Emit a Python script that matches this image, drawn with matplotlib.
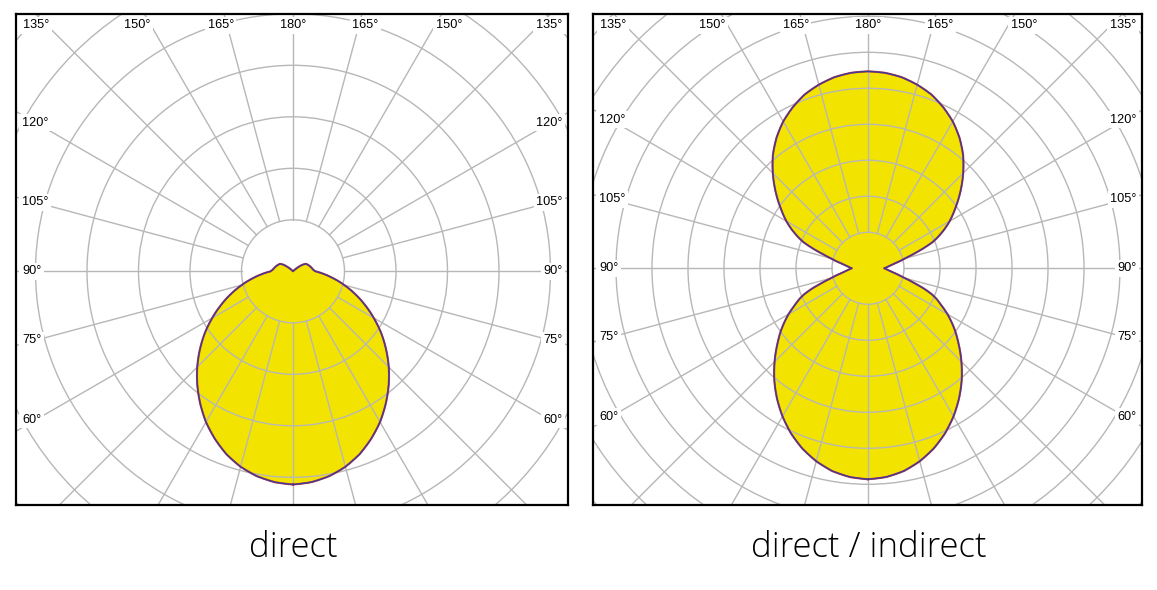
import numpy as np
import matplotlib
matplotlib.use("Agg")
import matplotlib.pyplot as plt
from matplotlib.patches import Circle

# polar light distribution, gamma angle 0 = straight down, 180 = straight up
gamma_direct = [0, 5, 10, 15, 20, 25, 30, 35, 40, 45, 50, 55, 60, 65, 70, 75, 80, 85, 90,
                95, 100, 105, 110, 115, 120, 125, 130, 135, 140, 145, 150, 155, 160, 165,
                170, 175, 180]
direct = [4.14, 4.11, 4.04, 3.93, 3.78, 3.59, 3.38, 3.14, 2.89, 2.63, 2.36, 2.09, 1.81, 1.54,
          1.28, 1.03, 0.80, 0.60, 0.43, 0.39, 0.37, 0.35, 0.33, 0.31, 0.29, 0.22, 0.10, 0.02,
          0, 0, 0, 0, 0, 0, 0, 0, 0]

gamma_di = [0, 5, 10, 15, 20, 25, 30, 35, 40, 45, 50, 55, 60, 63, 66, 68, 70, 72, 75, 80, 84,
            90, 96, 100, 105, 108, 110, 112, 114, 117, 120, 125, 130, 135, 140, 145, 150, 155,
            160, 165, 170, 175, 180]
direct_indirect = [5.86, 5.82, 5.72, 5.55, 5.33, 5.06, 4.75, 4.41, 4.05, 3.67, 3.29, 2.93, 2.55,
                   2.30, 2.08, 1.90, 1.66, 1.39, 1.06, 0.73, 0.58, 0.45, 0.58, 0.73, 1.06, 1.39,
                   1.66, 1.93, 2.12, 2.38, 2.62, 2.98, 3.36, 3.74, 4.11, 4.43, 4.71, 4.94, 5.14,
                   5.28, 5.39, 5.45, 5.47]

titles = ["direct", "direct / indirect"]
top_labels = [135, 150, 165, 180]
side_labels = [120, 105, 90, 75, 60]

W, H = 1157, 590
GRID = "#b7b7b7"
FILL = "#f2e400"


def draw_panel(fig, frame, center, scale, gamma, values, title):
    # frame = (x0, y0, x1, y1) in image pixels, center in image pixels, scale = px per ring
    x0, y0, x1, y1 = frame
    cx, cy = center
    ax = fig.add_axes([x0 / W, 1 - y1 / H, (x1 - x0) / W, (y1 - y0) / H])
    ax.set_xlim((x0 - cx) / scale, (x1 - cx) / scale)
    ax.set_ylim((cy - y1) / scale, (cy - y0) / scale)
    ax.set_xticks([])
    ax.set_yticks([])
    for s in ax.spines.values():
        s.set_linewidth(1.6)
        s.set_zorder(10)

    # luminous intensity curve, symmetric left/right
    g = np.linspace(0, 180, 1441)
    r = np.interp(g, gamma, values)
    g_all = np.concatenate([g, 360 - g[::-1]])
    r_all = np.concatenate([r, r[::-1]])
    t = np.radians(g_all)
    x = r_all * np.sin(t)
    y = -r_all * np.cos(t)
    ax.fill(x, y, color=FILL, lw=0, zorder=1)

    # grid
    for k in range(1, 12):
        ax.add_patch(Circle((0, 0), k, fill=False, ec=GRID, lw=1.0, zorder=2))
    for a in range(0, 360, 15):
        ar = np.radians(a)
        ax.plot([np.sin(ar), 15 * np.sin(ar)], [-np.cos(ar), -15 * np.cos(ar)],
                color=GRID, lw=1.0, zorder=2)

    ax.plot(x, y, color="#d23a3a", lw=1.5, zorder=3)
    ax.plot(x, y, color="#3c3c96", lw=1.0, zorder=3)

    box = dict(boxstyle="square,pad=0.2", fc="white", ec="none")
    kw = dict(fontsize=9.2, family="Liberation Sans", va="center", zorder=5, bbox=box)
    ty = (cy - (y0 + 11.5)) / scale
    for a in top_labels:
        txt = "%d°" % a
        if a == 135:
            ax.text((x0 + 7 - cx) / scale, ty, txt, ha="left", **kw)
            ax.text((x1 - 6 - cx) / scale, ty, txt, ha="right", **kw)
        else:
            dx = 270 * np.tan(np.radians(180 - a)) / scale
            ax.text(-dx, ty, txt, ha="center", **kw)
            if a != 180:
                ax.text(dx, ty, txt, ha="center", **kw)
    for a in side_labels:
        sy = 257 * np.tan(np.radians(a - 90)) / scale
        ax.text((x0 + 6 - cx) / scale, sy, "%d°" % a, ha="left", **kw)
        ax.text((x1 - 5.5 - cx) / scale, sy, "%d°" % a, ha="right", **kw)

    fig.text(((x0 + x1) / 2 + 1) / W, 1 - 557 / H, title, ha="center", va="baseline",
             fontsize=25, family="Open Sans", fontweight="light", color="#000000")
    return ax


fig = plt.figure(figsize=(W / 100, H / 100), dpi=100)
draw_panel(fig, (16, 14, 568, 505), (293, 271.3), 51.5, gamma_direct, direct, titles[0])
draw_panel(fig, (593, 14, 1142, 505), (868, 268.3), 36.0, gamma_di, direct_indirect, titles[1])
fig.savefig("out.png", dpi=100, facecolor="white")
